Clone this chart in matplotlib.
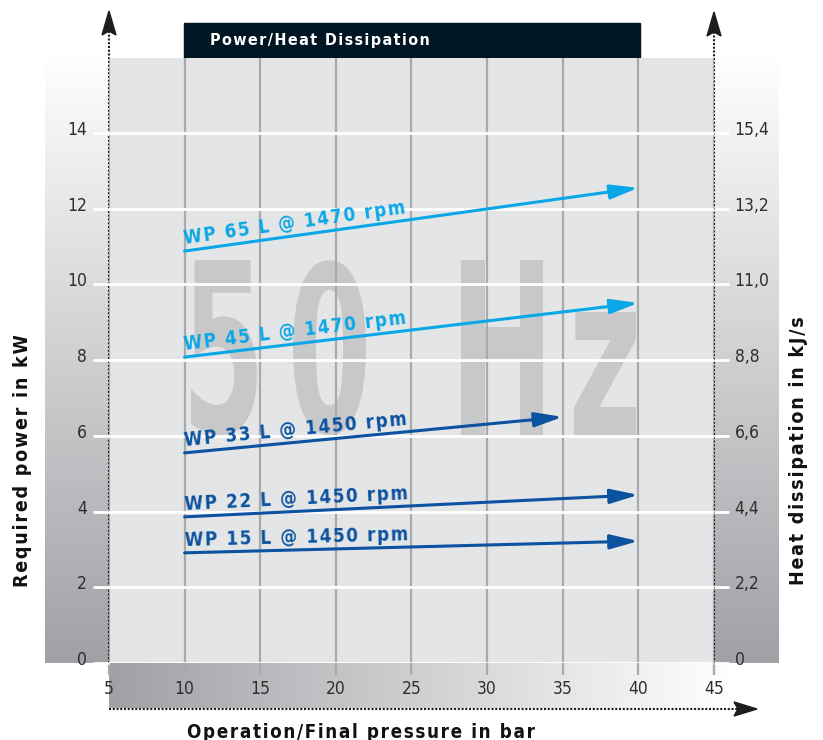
import numpy as np
import matplotlib
matplotlib.use("Agg")
import matplotlib.pyplot as plt
import matplotlib.transforms as mtransforms
from matplotlib import font_manager
from matplotlib.textpath import TextPath
from matplotlib.patches import PathPatch, Rectangle, Polygon
from matplotlib.colors import LinearSegmentedColormap

# pump curves (pressure in bar -> required power in kW)
labels = ['WP 65 L @ 1470 rpm', 'WP 45 L @ 1470 rpm', 'WP 33 L @ 1450 rpm',
          'WP 22 L @ 1450 rpm', 'WP 15 L @ 1450 rpm']
p_start = [10, 10, 10, 10, 10]
p_end = [40, 40, 35, 40, 40]
kw_start = [10.88, 8.08, 5.55, 3.86, 2.91]
kw_end = [12.55, 9.51, 6.50, 4.44, 3.22]
line_colors = ['#0aa7e6', '#0aa7e6', '#0b52a0', '#0b52a0', '#0b52a0']

x_ticks = [5, 10, 15, 20, 25, 30, 35, 40, 45]
kw_ticks = [0, 2, 4, 6, 8, 10, 12, 14]
kj_ticks = [0, 2.2, 4.4, 6.6, 8.8, 11.0, 13.2, 15.4]

# look for a condensed face, otherwise plain DejaVu Sans
cond_reg = cond_bold = None
for f in font_manager.fontManager.ttflist:
    fn = f.fname.replace('-', '').replace('_', '').lower()
    if ('condensed' in fn or 'narrow' in fn) and 'oblique' not in fn and 'italic' not in fn:
        if 'bold' in fn and cond_bold is None:
            cond_bold = f.fname
        elif 'bold' not in fn and cond_reg is None:
            cond_reg = f.fname

if cond_bold:
    fp_bold = font_manager.FontProperties(fname=cond_bold)
    sp = '\u200a'
else:
    fp_bold = font_manager.FontProperties(family='DejaVu Sans', weight='bold')
    sp = ''
fp_reg = (font_manager.FontProperties(fname=cond_reg) if cond_reg
          else font_manager.FontProperties(family='DejaVu Sans'))


def spaced(s):
    return sp.join(s)


def fprop(base, size):
    p = base.copy()
    p.set_size(size)
    return p


W, H = 823, 740
fig = plt.figure(figsize=(W / 100, H / 100), dpi=100)

# background layer in pixel coordinates
bg = fig.add_axes([0, 0, 1, 1], zorder=-1)
bg.axis('off')
vert = LinearSegmentedColormap.from_list('v', ['#ffffff', '#a0a1a5'])
grad_v = np.linspace(0, 1, 256).reshape(-1, 1)
bg.imshow(grad_v, cmap=vert, extent=(45, 109, 663, 50), aspect='auto')
bg.imshow(grad_v, cmap=vert, extent=(714, 779, 663, 55), aspect='auto')
grad_h = np.linspace(1, 0, 256).reshape(1, -1)
bg.imshow(grad_h, cmap=vert, extent=(109, 730, 708, 663), aspect='auto')
bg.add_patch(Rectangle((184, 23), 456, 35, color='#011623'))
bg.text(210, 41, spaced('Power/Heat Dissipation'), color='white',
        fontproperties=fprop(fp_bold, 11.5), va='center', ha='left')

dot = dict(color='#1e1e1e', lw=1.5, linestyle=(0, (1, 0.8)))
bg.plot([109, 109], [663, 30], **dot)
bg.plot([714, 714], [675, 30], **dot)
bg.plot([109, 738], [709, 709], **dot)
bg.add_patch(Polygon([(109, 11), (102, 35), (109, 31), (116, 35)], color='#1e1e1e'))
bg.add_patch(Polygon([(714, 12), (707, 36), (714, 32), (721, 36)], color='#1e1e1e'))
bg.add_patch(Polygon([(757, 709), (734, 702), (738, 709), (734, 716)], color='#1e1e1e'))
bg.set_xlim(0, W)
bg.set_ylim(H, 0)

# main chart area
ax = fig.add_axes([109 / W, (H - 663) / H, 605 / W, 605 / H])
ax.set_facecolor('#e4e5e7')
ax.set_xlim(5, 45)
ymax = 605 / 37.86
ax.set_ylim(0, ymax)
for s in ax.spines.values():
    s.set_visible(False)
ax.set_axisbelow(True)
ax.grid(axis='x', color='#a8a9ab', lw=1.6)
ax.grid(axis='y', color='white', lw=2)

ax.set_xticks(x_ticks)
ax.set_xticklabels([str(v) for v in x_ticks], fontproperties=fprop(fp_reg, 12.5))
ax.set_yticks(kw_ticks)
ax.set_yticklabels([str(v) for v in kw_ticks], fontproperties=fprop(fp_reg, 12.5))
ax.tick_params(axis='x', colors='#a8a9ab', width=1.6, length=8.6, pad=4,
               labelcolor='#2e2e2e')
ax.tick_params(axis='y', colors='white', width=2, length=11.5, pad=4.5,
               labelcolor='#2e2e2e')

ax2 = ax.twinx()
ax2.set_ylim(0, ymax * 1.1)
for s in ax2.spines.values():
    s.set_visible(False)
ax2.set_yticks(kj_ticks)
ax2.set_yticklabels(['0' if v == 0 else f'{v:.1f}'.replace('.', ',') for v in kj_ticks],
                    fontproperties=fprop(fp_reg, 12.5))
ax2.tick_params(axis='y', colors='white', width=2, length=10.8, pad=4,
                labelcolor='#2e2e2e')

up = mtransforms.ScaledTranslation(0, 0.05, fig.dpi_scale_trans)
for lab in ax.get_yticklabels() + ax2.get_yticklabels():
    lab.set_transform(lab.get_transform() + up)

# watermark "50 Hz"
wm_boxes = [('5', 10.42, 14.78, 6.02, 10.64), ('0', 17.17, 21.99, 6.02, 10.64),
            ('H', 28.3, 33.7, 6.02, 10.64), ('z', 35.74, 39.84, 6.02, 9.27)]
for ch, x0, x1, y0, y1 in wm_boxes:
    tp = TextPath((0, 0), ch, size=1, prop=fp_bold)
    ext = tp.get_extents()
    tr = (mtransforms.Affine2D().translate(-ext.x0, -ext.y0)
          .scale((x1 - x0) / ext.width, (y1 - y0) / ext.height).translate(x0, y0))
    ax.add_patch(PathPatch(tr.transform_path(tp), fc='#c7c8ca', ec='none', zorder=0.3))

# pump lines with arrows and labels
for lab, xa, xb, ya, yb, c in zip(labels, p_start, p_end, kw_start, kw_end, line_colors):
    ax.annotate('', xy=(xb, yb), xytext=(xa, ya),
                arrowprops=dict(arrowstyle='-|>,head_length=0.85,head_width=0.22',
                                color=c, lw=2.2, shrinkA=0, shrinkB=0,
                                mutation_scale=20))
    ang = np.degrees(np.arctan2(yb - ya, xb - xa))
    off = mtransforms.ScaledTranslation(0, 0.07, fig.dpi_scale_trans)
    ax.text(xa, ya, spaced(lab), color=c, fontproperties=fprop(fp_bold, 13.5),
            rotation=ang, transform_rotates_text=True, rotation_mode='anchor',
            ha='left', va='baseline', transform=ax.transData + off)

# axis titles
fig.text(23 / W, 1 - 461 / H, spaced('Required power in kW'), rotation=90,
         fontproperties=fprop(fp_bold, 14), ha='center', va='center', color='#111111')
fig.text(798 / W, 1 - 451 / H, spaced('Heat dissipation in kJ/s'), rotation=90,
         fontproperties=fprop(fp_bold, 14), ha='center', va='center', color='#111111')
fig.text(361 / W, 1 - 732 / H, spaced('Operation/Final pressure in bar'),
         fontproperties=fprop(fp_bold, 13.5), ha='center', va='center', color='#111111')

fig.savefig('out.png', dpi=100)
